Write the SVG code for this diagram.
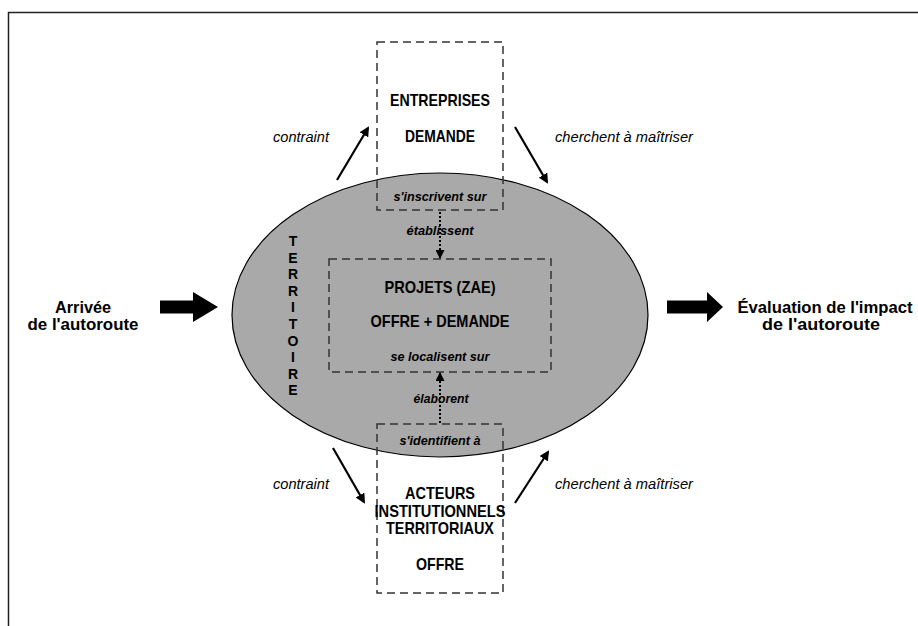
<svg xmlns="http://www.w3.org/2000/svg" width="918" height="626" viewBox="0 0 918 626">
<defs>
<style>
.t{font-family:"Liberation Sans",Arial,sans-serif;fill:#000}
.b{font-weight:bold;font-size:17px;text-anchor:middle}
.bi{font-weight:bold;font-style:italic;font-size:13px;text-anchor:middle}
.i{font-style:italic;font-size:14px}
.v{font-weight:bold;font-size:14px;text-anchor:middle}
.big{font-weight:bold;font-size:16px;text-anchor:middle}
.box{fill:none;stroke:#333;stroke-width:1.5;stroke-dasharray:8 5}
.arr{stroke:#000;stroke-width:2.2;fill:none;marker-end:url(#ah)}
.dot{stroke:#000;stroke-width:2;fill:none;stroke-dasharray:2 2;marker-end:url(#dh)}
</style>
<marker id="ah" markerWidth="10" markerHeight="10" refX="8" refY="5" orient="auto" markerUnits="userSpaceOnUse" viewBox="0 0 10 10">
<path d="M0,0 L10,5 L0,10 Z" fill="#000"/>
</marker>
<marker id="dh" markerWidth="9" markerHeight="9" refX="8" refY="4.5" orient="auto" markerUnits="userSpaceOnUse" viewBox="0 0 9 9">
<path d="M0,0 L9,4.5 L0,9 Z" fill="#000"/>
</marker>
</defs>
<rect width="918" height="626" fill="#fff"/>
<path d="M8.5 626 V12.5 H918" fill="none" stroke="#222" stroke-width="1.5"/>

<g id="territoire">
<ellipse cx="440" cy="315" rx="208" ry="142" fill="#a9a9a9" stroke="#000" stroke-width="1.2"/>
<text class="t v" x="293" y="246">T</text>
<text class="t v" x="293" y="262.6">E</text>
<text class="t v" x="293" y="279.2">R</text>
<text class="t v" x="293" y="295.8">R</text>
<text class="t v" x="293" y="312.4">I</text>
<text class="t v" x="293" y="329">T</text>
<text class="t v" x="293" y="345.6">O</text>
<text class="t v" x="293" y="362.2">I</text>
<text class="t v" x="293" y="378.8">R</text>
<text class="t v" x="293" y="395.4">E</text>
</g>

<g id="entreprises">
<rect class="box" x="377" y="42" width="126" height="168"/>
<text class="t b" x="440" y="106" textLength="100" lengthAdjust="spacingAndGlyphs">ENTREPRISES</text>
<text class="t b" x="440" y="142" textLength="70" lengthAdjust="spacingAndGlyphs">DEMANDE</text>
<text class="t bi" x="440" y="201" textLength="93" lengthAdjust="spacingAndGlyphs">s'inscrivent sur</text>
</g>

<g id="projets">
<rect class="box" x="329" y="259" width="222" height="113"/>
<text class="t b" x="440" y="293" textLength="111" lengthAdjust="spacingAndGlyphs">PROJETS (ZAE)</text>
<text class="t b" x="440" y="327" textLength="139" lengthAdjust="spacingAndGlyphs">OFFRE + DEMANDE</text>
<text class="t bi" x="440" y="361" textLength="99" lengthAdjust="spacingAndGlyphs">se localisent sur</text>
</g>

<g id="acteurs">
<rect class="box" x="377" y="424" width="126" height="169"/>
<text class="t bi" x="440" y="445" textLength="81" lengthAdjust="spacingAndGlyphs">s'identifient à</text>
<text class="t b" x="440" y="499" textLength="70" lengthAdjust="spacingAndGlyphs">ACTEURS</text>
<text class="t b" x="440" y="516.5" textLength="131" lengthAdjust="spacingAndGlyphs">INSTITUTIONNELS</text>
<text class="t b" x="440" y="534" textLength="108" lengthAdjust="spacingAndGlyphs">TERRITORIAUX</text>
<text class="t b" x="440" y="570" textLength="48" lengthAdjust="spacingAndGlyphs">OFFRE</text>
</g>

<g id="arrivee">
<text class="t big" x="83" y="313" textLength="56" lengthAdjust="spacingAndGlyphs">Arrivée</text>
<text class="t big" x="83" y="330" textLength="111" lengthAdjust="spacingAndGlyphs">de l'autoroute</text>
</g>

<g id="evaluation">
<text class="t big" x="825" y="313" textLength="175" lengthAdjust="spacingAndGlyphs">Évaluation de l'impact</text>
<text class="t big" x="821" y="330" textLength="118" lengthAdjust="spacingAndGlyphs">de l'autoroute</text>
</g>

<g id="connectors">
<polygon points="160,300.5 193,300.5 193,292 218,307 193,322 193,313.5 160,313.5" fill="#000"/>
<polygon points="667,300.5 707,300.5 707,292 723,307 707,322 707,313.5 667,313.5" fill="#000"/>
<line class="arr" x1="337" y1="180" x2="368" y2="128"/>
<line class="arr" x1="515" y1="127" x2="547" y2="182"/>
<line class="arr" x1="333" y1="448" x2="364" y2="502"/>
<line class="arr" x1="515" y1="503" x2="548" y2="452"/>
<line class="dot" x1="440" y1="212" x2="440" y2="258"/>
<line class="dot" x1="440" y1="423" x2="440" y2="373"/>
<text class="t bi" x="440" y="235" textLength="67" lengthAdjust="spacingAndGlyphs">établissent</text>
<text class="t bi" x="441" y="403" textLength="55" lengthAdjust="spacingAndGlyphs">élaborent</text>
<text class="t i" x="273" y="142" textLength="56" lengthAdjust="spacingAndGlyphs">contraint</text>
<text class="t i" x="555" y="142" textLength="138" lengthAdjust="spacingAndGlyphs">cherchent à maîtriser</text>
<text class="t i" x="273" y="489" textLength="56" lengthAdjust="spacingAndGlyphs">contraint</text>
<text class="t i" x="555" y="489" textLength="138" lengthAdjust="spacingAndGlyphs">cherchent à maîtriser</text>
</g>
</svg>
